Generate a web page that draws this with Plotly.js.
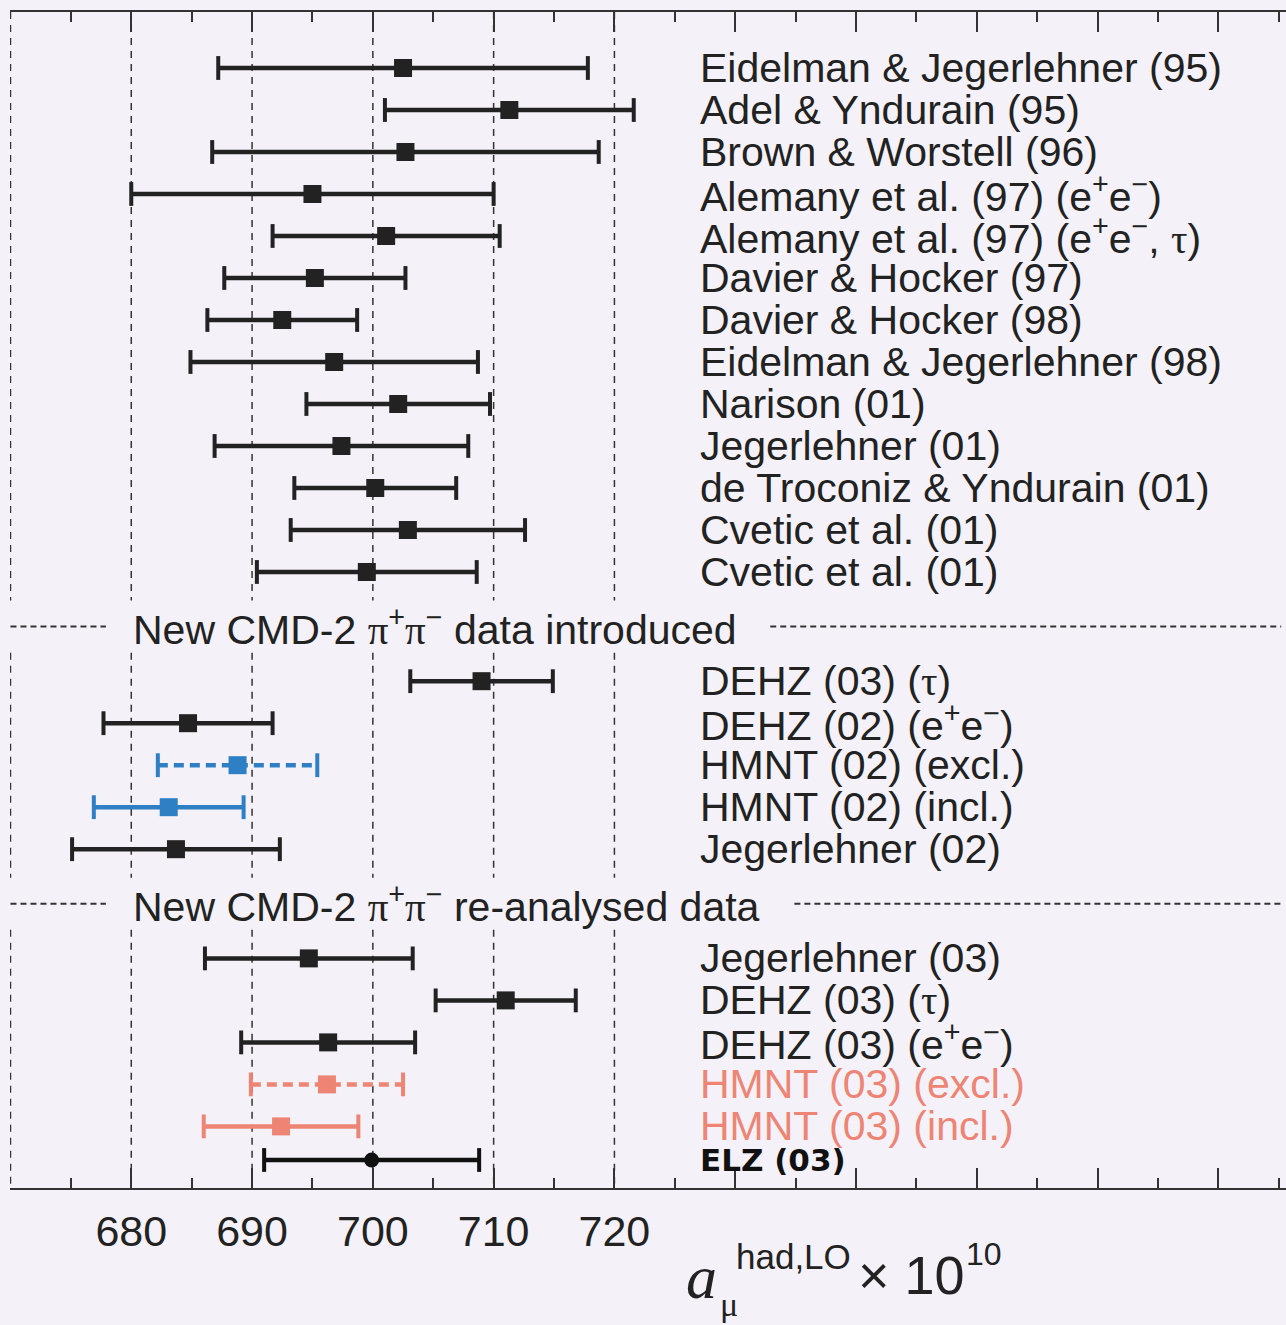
<!DOCTYPE html>
<html>
<head>
<meta charset="utf-8">
<script src="https://cdn.plot.ly/plotly-3.0.1.min.js"></script>
<style>html,body{margin:0;padding:0;background:#f4f2f8;}</style>
</head>
<body>
<div id="chart" style="width:1286px;height:1325px;"></div>
<script>
// ---------- DATA ----------
const preLabels = [
  'Eidelman & Jegerlehner (95)', 'Adel & Yndurain (95)', 'Brown & Worstell (96)',
  'Alemany et al. (97) (e<sup>+</sup>e<sup>−</sup>)',
  'Alemany et al. (97) (e<sup>+</sup>e<sup>−</sup>, τ)',
  'Davier & Hocker (97)', 'Davier & Hocker (98)', 'Eidelman & Jegerlehner (98)',
  'Narison (01)', 'Jegerlehner (01)', 'de Troconiz & Yndurain (01)',
  'Cvetic et al. (01)', 'Cvetic et al. (01)'
];
const preValues = [702.5, 711.3, 702.7, 695.0, 701.1, 695.2, 692.5, 696.8, 702.1, 697.4, 700.2, 702.9, 699.5];
const preErrors = [15.3, 10.3, 16.0, 15.0, 9.4, 7.5, 6.2, 11.9, 7.6, 10.5, 6.7, 9.7, 9.1];

const introLabels = ['DEHZ (03) (τ)', 'DEHZ (02) (e<sup>+</sup>e<sup>−</sup>)', 'HMNT (02) (excl.)', 'HMNT (02) (incl.)', 'Jegerlehner (02)'];
const introValues = [709.0, 684.7, 688.8, 683.1, 683.7];
const introErrors = [5.9, 7.0, 6.6, 6.2, 8.6];

const reanLabels = ['Jegerlehner (03)', 'DEHZ (03) (τ)', 'DEHZ (03) (e<sup>+</sup>e<sup>−</sup>)', 'HMNT (03) (excl.)', 'HMNT (03) (incl.)', 'ELZ (03)'];
const reanValues = [694.7, 711.0, 696.3, 696.2, 692.4, 699.9];
const reanErrors = [8.6, 5.8, 7.2, 6.3, 6.4, 8.9];

const separatorTexts = [
  'New CMD-2 <span style="font-family:Liberation Serif">π</span><sup>+</sup><span style="font-family:Liberation Serif">π</span><sup>−</sup> data introduced',
  'New CMD-2 <span style="font-family:Liberation Serif">π</span><sup>+</sup><span style="font-family:Liberation Serif">π</span><sup>−</sup> re-analysed data'
];
const tickValues = [670, 680, 690, 700, 710, 720, 730, 740, 750, 760, 770];
const tickLabels = ['', '680', '690', '700', '710', '720', '', '', '', '', ''];

// ---------- STYLES ----------
const BLACK = '#222222', BLUE = '#2f7fc5', SALMON = '#ee8474';
const specialStyle = {
  '1|HMNT (02) (excl.)': {color: BLUE, dash: '10px,6px'},
  '1|HMNT (02) (incl.)': {color: BLUE, dash: 'solid'},
  '2|HMNT (03) (excl.)': {color: SALMON, dash: '10px,6px', labelColor: SALMON},
  '2|HMNT (03) (incl.)': {color: SALMON, dash: 'solid', labelColor: SALMON},
  '2|ELZ (03)': {color: '#111', dash: 'solid', symbol: 'circle', labelBold: true}
};

// ---------- LAYOUT OF ROWS ----------
const sections = [
  {labels: preLabels, values: preValues, errors: preErrors},
  {labels: introLabels, values: introValues, errors: introErrors},
  {labels: reanLabels, values: reanValues, errors: reanErrors}
];
const sectionGap = 2.6;
const rows = [];
let pos = 0;
const sepPos = [];
sections.forEach((s, si) => {
  if (si > 0) { sepPos.push(pos - 1 + sectionGap / 2); pos += sectionGap - 1; }
  s.labels.forEach((lab, i) => {
    const key = si + '|' + lab;
    const st = Object.assign({color: BLACK, dash: 'solid', symbol: 'square', labelColor: '#222'}, specialStyle[key] || {});
    let y = pos;
    if (key === '2|ELZ (03)') y -= 0.2;
    rows.push({label: lab, v: s.values[i], e: s.errors[i], y: y, st: st});
    pos += 1;
  });
});

// group rows by style for traces
const traces = [];
const groups = {};
rows.forEach(r => {
  const k = r.st.color + r.st.dash + r.st.symbol;
  (groups[k] = groups[k] || {st: r.st, rows: []}).rows.push(r);
});
Object.values(groups).forEach(g => {
  const lx = [], ly = [], cx = [], cy = [];
  g.rows.forEach(r => {
    lx.push(r.v - r.e, r.v + r.e, null); ly.push(r.y, r.y, null);
    cx.push(r.v - r.e, r.v + r.e); cy.push(r.y, r.y);
  });
  traces.push({x: lx, y: ly, mode: 'lines', line: {color: g.st.color, width: 4.5, dash: g.st.dash}, hoverinfo: 'skip'});
  traces.push({x: cx, y: cy, mode: 'markers', marker: {symbol: 'line-ns', size: 17, color: g.st.color, line: {color: g.st.color, width: 4}}, hoverinfo: 'skip'});
  traces.push({x: g.rows.map(r => r.v), y: g.rows.map(r => r.y), mode: 'markers',
    marker: {symbol: g.st.symbol, size: g.st.symbol === 'circle' ? 15 : 18, color: g.st.color, line: {width: 0}}});
});

// y range: top / bottom in row units
const yTop = -1.333, yBottom = 26.667;
const FONT = 'Liberation Sans, Arial, sans-serif';
const annotations = rows.map(r => ({
  x: 726.95, y: r.y, xref: 'x', yref: 'y', xanchor: 'left', yanchor: 'middle',
  text: r.st.labelBold ? '<b>' + r.label + '</b>' : r.label.replace(/τ/g, '<span style="font-family:Liberation Serif">τ</span>'),
  showarrow: false,
  font: r.st.labelBold ? {family: 'DejaVu Sans, sans-serif', size: 31, color: '#111'} : {family: FONT, size: 41, color: r.st.labelColor}
}));
sepPos.forEach((sp, i) => {
  annotations.push({x: 679.95, y: sp, xref: 'x', yref: 'y', xanchor: 'left', yanchor: 'middle',
    text: separatorTexts[i], showarrow: false, font: {family: FONT, size: 41, color: '#222'}});
});
// axis title pieces
const pyy = px => (1188 - px) / 1176;
annotations.push({x: 725.8, y: pyy(1277), xref: 'x', yref: 'paper', xanchor: 'left', yanchor: 'middle', showarrow: false,
  text: '<i>a</i>', font: {family: 'Liberation Serif, serif', size: 62, color: '#222'}});
annotations.push({x: 728.6, y: pyy(1304), xref: 'x', yref: 'paper', xanchor: 'left', yanchor: 'middle', showarrow: false,
  text: 'μ', font: {family: 'Liberation Serif, serif', size: 34, color: '#222'}});
annotations.push({x: 729.9, y: pyy(1256), xref: 'x', yref: 'paper', xanchor: 'left', yanchor: 'middle', showarrow: false,
  text: 'had,LO', font: {family: FONT, size: 35, color: '#222'}});
annotations.push({x: 740.0, y: pyy(1275), xref: 'x', yref: 'paper', xanchor: 'left', yanchor: 'middle', showarrow: false,
  text: '× 10', font: {family: FONT, size: 54, color: '#222'}});
annotations.push({x: 748.9, y: pyy(1254), xref: 'x', yref: 'paper', xanchor: 'left', yanchor: 'middle', showarrow: false,
  text: '10', font: {family: FONT, size: 32, color: '#222'}});

// shapes: dashed vertical gridlines (broken at separator rows) and separator dashes
const shapes = [];
const gridVals = [670, 680, 690, 700, 710, 720];
const segs = [];
let start = yTop;
sepPos.forEach(sp => { segs.push([start, sp - 0.62]); start = sp + 0.62; });
segs.push([start, yBottom]);
gridVals.forEach(gv => segs.forEach(sg => shapes.push({type: 'line', xref: 'x', yref: 'y', x0: gv, x1: gv, y0: sg[0], y1: sg[1],
  line: {color: '#333', width: 1.5, dash: '7px,6px'}, layer: 'below'})));
const sepRightStart = [732.9, 734.9];
sepPos.forEach((sp, i) => {
  shapes.push({type: 'line', xref: 'x', yref: 'y', x0: 670, x1: 677.9, y0: sp, y1: sp, line: {color: '#333', width: 2, dash: '6px,4px'}});
  shapes.push({type: 'line', xref: 'x', yref: 'y', x0: sepRightStart[i], x1: 775.2, y0: sp, y1: sp, line: {color: '#333', width: 2, dash: '6px,4px'}});
});

const layout = {
  width: 1286, height: 1325,
  margin: {l: 10, r: 0, t: 12, b: 137},
  paper_bgcolor: '#f4f2f8', plot_bgcolor: '#f4f2f8',
  showlegend: false,
  xaxis: {
    range: [669.96, 775.6], tickmode: 'array', tickvals: tickValues, ticktext: tickLabels,
    ticks: 'inside', ticklen: 20, tickwidth: 2, tickcolor: '#333',
    showline: true, linewidth: 2, linecolor: '#333', mirror: 'ticks',
    showgrid: false, zeroline: false, ticklabelstandoff: 4,
    tickfont: {family: FONT, size: 43, color: '#222'},
    minor: {ticks: 'inside', ticklen: 10, tickwidth: 2, tickcolor: '#333', dtick: 5, tick0: 670, showgrid: false}
  },
  yaxis: {range: [yBottom, yTop], visible: false, showgrid: false, zeroline: false},
  annotations: annotations,
  shapes: shapes
};
Plotly.newPlot('chart', traces, layout, {displayModeBar: false, staticPlot: true});
</script>
</body>
</html>
